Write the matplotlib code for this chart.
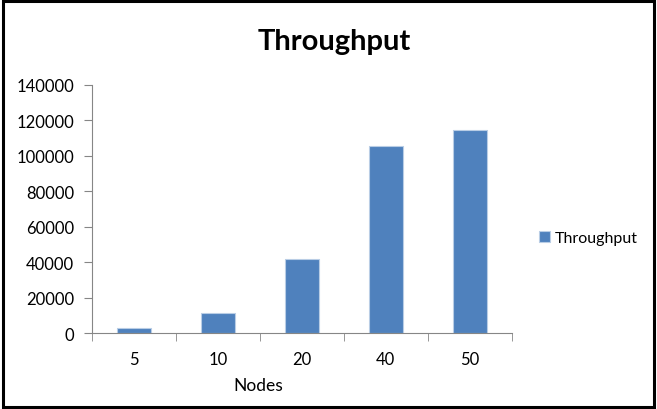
import matplotlib; matplotlib.use("Agg")
import matplotlib.pyplot as plt
from matplotlib.patches import Rectangle

nodes = ["5", "10", "20", "40", "50"]
throughput = [3100, 11700, 41800, 105500, 114500]
yticks = [0, 20000, 40000, 60000, 80000, 100000, 120000, 140000]

plt.rcParams["font.family"] = ["Lato", "DejaVu Sans"]
BLUE = "#4F81BD"; GREY = "#868686"

fig = plt.figure(figsize=(6.57, 4.10), dpi=100)
fig.patches.append(Rectangle((0.004, 0.006), 0.992, 0.988, transform=fig.transFigure,
                             fill=False, edgecolor="black", lw=2.2))
ax = fig.add_axes([0.140, 0.1846, 0.639, 0.6064])
x = range(len(nodes))
ax.bar(x, throughput, width=0.4, color=BLUE, edgecolor="#B9CDE5", lw=0.8, label="Throughput")
ax.set_xlim(-0.5, len(nodes) - 0.5)
ax.set_ylim(0, 140000)
ax.set_yticks(yticks)
ax.set_yticklabels([str(v) for v in yticks], fontsize=12)
ax.set_xticks(list(x))
ax.set_xticklabels(nodes, fontsize=12)
ax.tick_params(axis="x", length=0, pad=13)
ax.set_xticks([i - 0.5 for i in range(len(nodes) + 1)], minor=True)
ax.tick_params(axis="x", which="minor", length=6, color=GREY, direction="out")
ax.tick_params(axis="y", length=6, color=GREY, direction="out", pad=7)
for s in ["top", "right"]:
    ax.spines[s].set_visible(False)
for s in ["left", "bottom"]:
    ax.spines[s].set_color(GREY)
ax.set_xlabel("Nodes", fontsize=12.5)
ax.xaxis.set_label_coords(0.397, -0.175)
fig.suptitle("Throughput", x=0.509, y=0.93, fontsize=21, fontweight="bold")
ax.legend(loc="center left", bbox_to_anchor=(1.03, 0.385), frameon=False, fontsize=11.5,
          handlelength=0.7, handleheight=0.7, handletextpad=0.3)
fig.savefig("out.png", dpi=100)
